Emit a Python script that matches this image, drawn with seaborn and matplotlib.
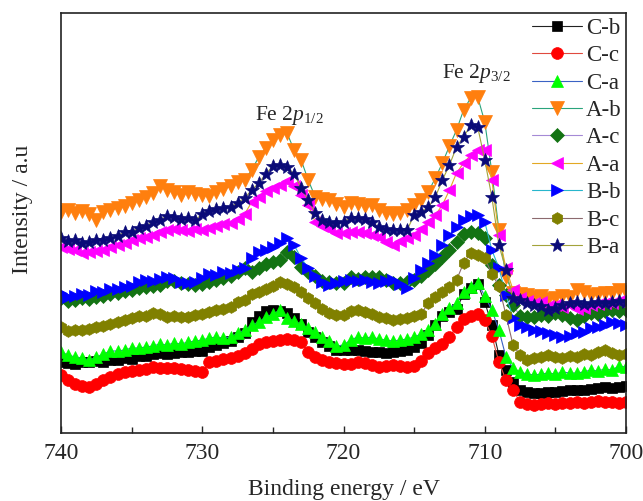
import numpy as np
import pandas as pd
import matplotlib
matplotlib.use("Agg")
import matplotlib.pyplot as plt
from matplotlib.ticker import MultipleLocator
import seaborn as sns

# binding energy grid (eV), 740 -> 700 in 0.5 eV steps
energy = np.arange(740, 699.9, -0.5)

# intensities (a.u., offset stacked)
c_b = [71, 70, 69, 71, 71, 72, 71, 73, 73, 75, 74, 77, 77, 79, 80, 79, 80, 81, 81, 82,
       82, 86, 88, 90, 92, 96, 100, 111, 117, 122, 123, 122, 120, 115, 109, 101, 96, 91, 87, 83,
       83, 83, 83, 82, 81, 81, 80, 81, 82, 83, 86, 90, 98, 108, 117, 121, 124, 139, 145, 149,
       131, 108, 78, 63, 51, 43, 41, 40, 40, 41, 41, 42, 43, 43, 43, 44, 45, 46, 45, 46, 47]
c_c = [58, 53, 49, 47, 46, 49, 53, 56, 59, 61, 62, 63, 64, 66, 65, 65, 65, 64, 63, 62,
       61, 71, 72, 74, 75, 77, 80, 84, 89, 91, 92, 93, 94, 93, 91, 81, 76, 73, 71, 70,
       69, 69, 71, 70, 68, 66, 67, 68, 67, 66, 67, 72, 80, 85, 89, 96, 106, 114, 117, 119,
       113, 97, 71, 53, 43, 31, 29, 28, 29, 30, 29, 30, 30, 31, 30, 31, 32, 31, 31, 30, 31]
c_a = [81, 78, 76, 75, 73, 76, 79, 82, 82, 83, 85, 85, 86, 87, 89, 88, 90, 89, 91, 92,
       93, 95, 96, 95, 96, 100, 103, 108, 111, 116, 119, 123, 115, 112, 109, 105, 101, 96, 92, 87,
       88, 93, 96, 95, 96, 94, 93, 92, 93, 94, 96, 99, 103, 109, 119, 125, 130, 141, 146, 150,
       137, 123, 103, 76, 65, 61, 59, 58, 59, 60, 59, 61, 60, 60, 61, 63, 62, 64, 63, 67, 66]
a_b = [221, 223, 220, 222, 219, 213, 221, 223, 225, 227, 230, 233, 236, 240, 247, 243, 241, 238, 241, 239,
       238, 237, 241, 244, 247, 251, 253, 263, 276, 285, 293, 298, 300, 283, 273, 253, 236, 234, 233, 229,
       226, 230, 229, 227, 228, 223, 220, 219, 220, 223, 228, 233, 241, 255, 270, 287, 303, 323, 335, 336,
       311, 261, 203, 156, 140, 139, 138, 136, 137, 134, 135, 137, 136, 143, 141, 138, 139, 140, 140, 143, 141]
a_c = [135, 132, 133, 135, 134, 136, 137, 139, 140, 142, 143, 145, 146, 147, 148, 152, 152, 150, 149, 148,
       149, 151, 153, 155, 157, 161, 165, 161, 165, 169, 171, 173, 181, 176, 166, 161, 157, 152, 151, 150,
       150, 156, 154, 156, 156, 156, 153, 150, 150, 151, 153, 157, 163, 169, 176, 183, 191, 199, 201, 200,
       195, 168, 148, 138, 128, 117, 116, 116, 118, 117, 120, 118, 115, 113, 117, 120, 119, 122, 123, 122, 123]
a_a = [186, 184, 183, 180, 181, 182, 183, 186, 188, 190, 193, 195, 196, 198, 201, 203, 204, 203, 202, 204,
       203, 205, 207, 209, 210, 214, 219, 231, 236, 242, 245, 248, 252, 247, 238, 228, 211, 207, 204, 200,
       200, 201, 201, 200, 198, 196, 191, 188, 192, 195, 198, 204, 211, 218, 228, 243, 260, 270, 278, 283,
       283, 253, 198, 165, 143, 135, 132, 130, 131, 127, 128, 126, 128, 124, 125, 128, 129, 130, 130, 132, 131]
b_b = [140, 136, 137, 139, 138, 142, 141, 144, 144, 146, 147, 151, 153, 152, 154, 156, 155, 151, 150, 151,
       155, 159, 158, 161, 160, 163, 165, 175, 181, 183, 186, 190, 195, 188, 175, 165, 157, 151, 148, 150,
       152, 153, 152, 153, 151, 150, 152, 153, 149, 145, 155, 163, 170, 178, 188, 198, 206, 213, 217, 218,
       211, 183, 165, 138, 115, 108, 106, 103, 102, 100, 98, 96, 97, 100, 101, 105, 106, 108, 111, 110, 108]
b_c = [106, 102, 103, 103, 104, 106, 107, 109, 111, 113, 115, 117, 117, 120, 119, 116, 117, 116, 116, 118,
       119, 121, 123, 124, 126, 131, 133, 139, 141, 144, 147, 151, 149, 146, 141, 135, 130, 124, 120, 118,
       118, 122, 123, 121, 119, 116, 115, 113, 114, 115, 117, 119, 130, 136, 141, 146, 153, 170, 180, 178,
       175, 159, 147, 118, 88, 78, 73, 75, 76, 78, 76, 75, 77, 76, 79, 78, 81, 83, 80, 78, 79]
b_a = [195, 192, 193, 190, 191, 193, 193, 195, 197, 201, 201, 205, 207, 211, 213, 217, 216, 214, 215, 213,
       219, 222, 224, 225, 226, 230, 235, 243, 250, 259, 267, 268, 266, 259, 245, 233, 220, 213, 211, 210,
       211, 215, 215, 214, 211, 206, 204, 203, 203, 203, 218, 221, 226, 236, 253, 268, 286, 296, 308, 306,
       273, 236, 188, 163, 135, 133, 130, 128, 127, 123, 125, 128, 130, 131, 129, 130, 131, 130, 131, 132, 131]

labels = ["C-b", "C-c", "C-a", "A-b", "A-c", "A-a", "B-b", "B-c", "B-a"]
series = [c_b, c_c, c_a, a_b, a_c, a_a, b_b, b_c, b_a]

line_colors = ["#222222", "#e04a3f", "#3a62c4", "#2aa47c", "#a58ad6",
               "#e3a823", "#27b6cc", "#8c6a6e", "#a3a33a"]
marker_colors = ["#000000", "#ff0000", "#00ff00", "#ff7f0e", "#137313",
                 "#ff00ff", "#0000ff", "#808000", "#0a0a78"]
markers = ["s", "o", "^", "v", "D", "<", ">", "h", "*"]
msizes = [7.5, 8.5, 9, 9.5, 7.5, 9, 9, 8.5, 10.5]

sns.set_style("ticks")
plt.rcParams["font.family"] = ["Liberation Serif", "DejaVu Serif"]
plt.rcParams["mathtext.fontset"] = "custom"
plt.rcParams["mathtext.rm"] = "Liberation Serif"
plt.rcParams["mathtext.it"] = "Liberation Serif:italic"

fig = plt.figure(figsize=(6.43, 5.01), dpi=100)
ax = fig.add_axes([0.0949, 0.1357, 0.8787, 0.8383])

for lab, vals, lc, mc, mk, ms in zip(labels, series, line_colors, marker_colors, markers, msizes):
    df = pd.DataFrame({"energy": energy, "intensity": vals})
    sns.lineplot(data=df, x="energy", y="intensity", ax=ax, color=lc, linewidth=0.8,
                 marker=mk, markersize=ms, markerfacecolor=mc, markeredgecolor=mc,
                 markeredgewidth=0.5, label=lab, errorbar=None, sort=False)

ax.set_xlim(740, 700)
ax.set_ylim(0, 420)
ax.set_yticks([])
ax.xaxis.set_major_locator(MultipleLocator(10))
ax.xaxis.set_minor_locator(MultipleLocator(5))
ax.tick_params(axis="x", which="major", direction="in", length=5, width=1, labelsize=17, pad=7)
ax.tick_params(axis="x", which="minor", direction="in", length=4, width=1)
for sp in ax.spines.values():
    sp.set_linewidth(1.2)
    sp.set_color("#222222")

ax.set_xlabel("Binding energy / eV", fontsize=17, labelpad=11)
ax.set_ylabel("Intensity / a.u", fontsize=17)
ax.yaxis.set_label_coords(-0.05, 0.533)

ax.text(723.8, 313, r"Fe 2$\mathit{p}_{\mathit{1/2}}$", fontsize=15.5, ha="center", va="baseline")
ax.text(710.6, 355, r"Fe 2$\mathit{p}_{\mathit{3/2}}$", fontsize=15.5, ha="center", va="baseline")

ax.legend(loc="upper right", frameon=False, fontsize=16.5, handlelength=2.2,
          handletextpad=0.17, labelspacing=0.28, borderpad=0.0, borderaxespad=0.2)

fig.savefig("out.png", dpi=100)
